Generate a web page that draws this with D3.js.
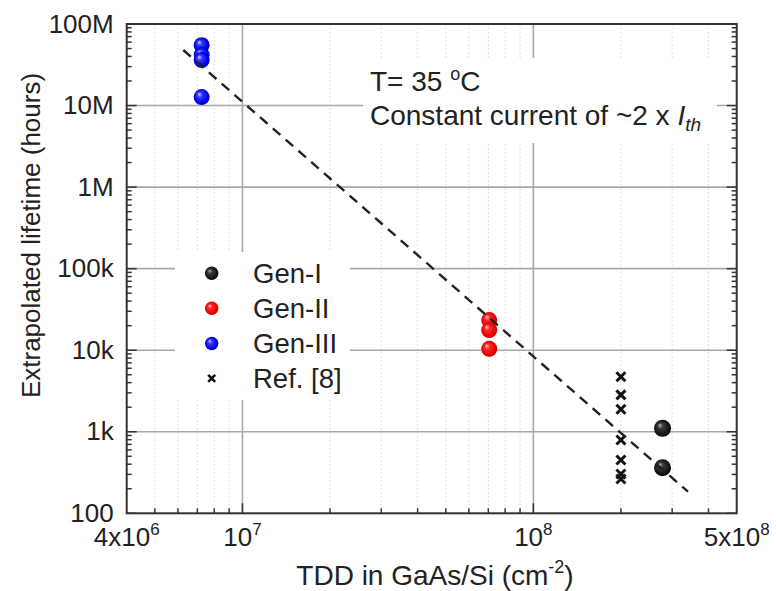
<!DOCTYPE html>
<html><head><meta charset="utf-8">
<script src="https://cdn.jsdelivr.net/npm/d3@7"></script>
<style>
body{margin:0;background:#fff}
text{font-family:"Liberation Sans",Arial,Helvetica,sans-serif;fill:#222}
</style>
</head><body>
<svg id="chart" width="776" height="591"></svg>
<script>
// ---- data ----
const genITDD = [2.78e8, 2.78e8];
const genILife = [1100, 362];
const genIITDD = [7.05e7, 7.05e7, 7.05e7];
const genIILife = [23400, 17700, 10400];
const genIIITDD = [7.24e6, 7.24e6, 7.24e6, 7.24e6];
const genIIILife = [55000000, 41700000, 36200000, 12700000];
const refTDD = [2e8, 2e8, 2e8, 2e8, 2e8, 2e8, 2e8];
const refLife = [4730, 2830, 1890, 791, 450, 303, 263];
const fitTDD = [6.26e6, 3.4e8];
const fitLife = [4.8e7, 184];
const yTickValues = [1e2, 1e3, 1e4, 1e5, 1e6, 1e7, 1e8];
const yTickLabels = ["100", "1k", "10k", "100k", "1M", "10M", "100M"];
const xTickValues = [4e6, 1e7, 1e8, 5e8];
const xTickMantissa = ["4x", "", "", "5x"];
const xTickExponent = ["6", "7", "8", "8"];
const legendLabels = ["Gen-I", "Gen-II", "Gen-III", "Ref. [8]"];
const xTitle = "TDD in GaAs/Si (cm";
const yTitle = "Extrapolated lifetime (hours)";

// ---- layout ----
const L = 126.7, R = 736.7, T = 24, B = 513.3;
const svg = d3.select("#chart");
const x = d3.scaleLog().domain([4e6, 5e8]).range([L, R]);
const y = d3.scaleLog().domain([1e2, 1e8]).range([B, T]);

// minor values
const xMinor = [];
[1e6, 1e7, 1e8].forEach(d => { for (let k = 2; k <= 9; k++) { const v = k * d; if (v > 4e6 && v < 5e8) xMinor.push(v); } });
const yMinor = [];
[1e2, 1e3, 1e4, 1e5, 1e6, 1e7].forEach(d => { for (let k = 2; k <= 9; k++) yMinor.push(k * d); });
const xMajor = [1e7, 1e8];

// gradients
const defs = svg.append("defs");
function sphere(id, c0, c1, c2, c3) {
  const g = defs.append("radialGradient").attr("id", id)
    .attr("cx", "0.5").attr("cy", "0.5").attr("r", "0.55").attr("fx", "0.33").attr("fy", "0.3");
  g.append("stop").attr("offset", "0").attr("stop-color", c0);
  g.append("stop").attr("offset", "0.3").attr("stop-color", c1);
  g.append("stop").attr("offset", "0.75").attr("stop-color", c2);
  g.append("stop").attr("offset", "1").attr("stop-color", c3);
}
sphere("gBlack", "#b0b0b0", "#3a3a3a", "#151515", "#000");
sphere("gRed", "#ffd0d0", "#ff2a2a", "#ee0000", "#b00000");
sphere("gBlue", "#d0d0ff", "#3535ff", "#0000ee", "#0000b0");

// minor vertical gridlines (dotted)
svg.append("g").selectAll("line").data(xMinor).join("line")
  .attr("x1", d => x(d)).attr("x2", d => x(d)).attr("y1", T).attr("y2", B)
  .attr("stroke", "#d8d8d8").attr("stroke-width", 1).attr("stroke-dasharray", "1.5,2.5");
// major gridlines
svg.append("g").selectAll("line").data(xMajor).join("line")
  .attr("x1", d => x(d)).attr("x2", d => x(d)).attr("y1", T).attr("y2", B)
  .attr("stroke", "#a8a8a8").attr("stroke-width", 1.6);
svg.append("g").selectAll("line").data(yTickValues.slice(1, -1)).join("line")
  .attr("x1", L).attr("x2", R).attr("y1", d => y(d)).attr("y2", d => y(d))
  .attr("stroke", "#a8a8a8").attr("stroke-width", 1.6);

// white boxes (legend and annotation)
svg.append("rect").attr("x", 363).attr("y", 58).attr("width", 354).attr("height", 85).attr("fill", "#fff");
svg.append("rect").attr("x", 175).attr("y", 252).attr("width", 175).attr("height", 148).attr("fill", "#fff");

// ticks
const tk = svg.append("g").attr("stroke", "#333").attr("stroke-width", 1.5);
tk.selectAll(".xmaj").data(xMajor).join("line").attr("class", "xmaj")
  .attr("x1", d => x(d)).attr("x2", d => x(d)).attr("y1", B).attr("y2", B - 10);
tk.selectAll(".xmin").data(xMinor).join("line").attr("class", "xmin")
  .attr("x1", d => x(d)).attr("x2", d => x(d)).attr("y1", B).attr("y2", B - 5);
[L, R].forEach((px, i) => {
  const dir = i === 0 ? 1 : -1;
  tk.append("g").selectAll("line").data(yTickValues).join("line")
    .attr("x1", px).attr("x2", px + dir * 10).attr("y1", d => y(d)).attr("y2", d => y(d));
  tk.append("g").selectAll("line").data(yMinor).join("line")
    .attr("x1", px).attr("x2", px + dir * 5).attr("y1", d => y(d)).attr("y2", d => y(d));
});

// frame
svg.append("rect").attr("x", L).attr("y", T).attr("width", R - L).attr("height", B - T)
  .attr("fill", "none").attr("stroke", "#333").attr("stroke-width", 2);

// y tick labels
svg.append("g").selectAll("text").data(yTickValues).join("text")
  .attr("x", L - 13).attr("y", d => y(d) + 8.5).attr("text-anchor", "end")
  .attr("font-size", 26).text((d, i) => yTickLabels[i]);

// x tick labels
const xl = svg.append("g").selectAll("text").data(xTickValues).join("text")
  .attr("x", d => x(d)).attr("y", 546).attr("text-anchor", "middle").attr("font-size", 26);
xl.append("tspan").text((d, i) => xTickMantissa[i] + "10");
xl.append("tspan").attr("dy", -11).attr("font-size", 17).text((d, i) => xTickExponent[i]);

// axis titles
const xt = svg.append("text").attr("x", 435).attr("y", 585).attr("text-anchor", "middle").attr("font-size", 28);
xt.append("tspan").text(xTitle);
xt.append("tspan").attr("dy", -12).attr("font-size", 18).text("-2");
xt.append("tspan").attr("dy", 12).text(")");
svg.append("text").attr("transform", "translate(40,235.5) rotate(-90)")
  .attr("text-anchor", "middle").attr("font-size", 26).text(yTitle);

// annotation
const a1 = svg.append("text").attr("x", 370).attr("y", 91).attr("font-size", 28);
a1.append("tspan").text("T= 35 ");
a1.append("tspan").attr("dy", -11).attr("font-size", 18).text("o");
a1.append("tspan").attr("dy", 11).text("C");
const a2 = svg.append("text").attr("x", 370).attr("y", 124.5).attr("font-size", 28);
a2.append("tspan").text("Constant current of ~2 x ");
a2.append("tspan").attr("font-style", "italic").text("I");
a2.append("tspan").attr("dy", 6).attr("font-style", "italic").attr("font-size", 19).text("th");

// data markers
function spheres(xs, ys, fill, r) {
  svg.append("g").selectAll("circle").data(xs).join("circle")
    .attr("cx", d => x(d)).attr("cy", (d, i) => y(ys[i])).attr("r", r).attr("fill", `url(#${fill})`);
}
spheres(genIIITDD, genIIILife, "gBlue", 8);
spheres(genIITDD, genIILife, "gRed", 8);
spheres(genITDD, genILife, "gBlack", 8.5);
const crossPath = "M-4.5,-4.5L4.5,4.5M4.5,-4.5L-4.5,4.5";
svg.append("g").selectAll("path").data(refTDD).join("path")
  .attr("transform", (d, i) => `translate(${x(d)},${y(refLife[i])})`)
  .attr("d", crossPath).attr("stroke", "#111").attr("stroke-width", 3).attr("fill", "none");

// fit line
svg.append("path")
  .attr("d", d3.line().x(d => x(d[0])).y(d => y(d[1]))(fitTDD.map((d, i) => [d, fitLife[i]])))
  .attr("stroke", "#222").attr("stroke-width", 2.4).attr("stroke-dasharray", "10,7").attr("fill", "none");

// legend
const legY = [273.3, 308.3, 343.5, 378.3];
const legFill = ["gBlack", "gRed", "gBlue", null];
const lg = svg.append("g");
legendLabels.forEach((lab, i) => {
  if (legFill[i]) lg.append("circle").attr("cx", 211.7).attr("cy", legY[i]).attr("r", 6.7).attr("fill", `url(#${legFill[i]})`);
  else lg.append("path").attr("transform", `translate(211.7,${legY[i]})`).attr("d", "M-3.5,-3.5L3.5,3.5M3.5,-3.5L-3.5,3.5")
    .attr("stroke", "#111").attr("stroke-width", 2.6);
  lg.append("text").attr("x", 253).attr("y", legY[i] + 9.5).attr("font-size", 27.5).text(lab);
});
</script>
</body></html>
